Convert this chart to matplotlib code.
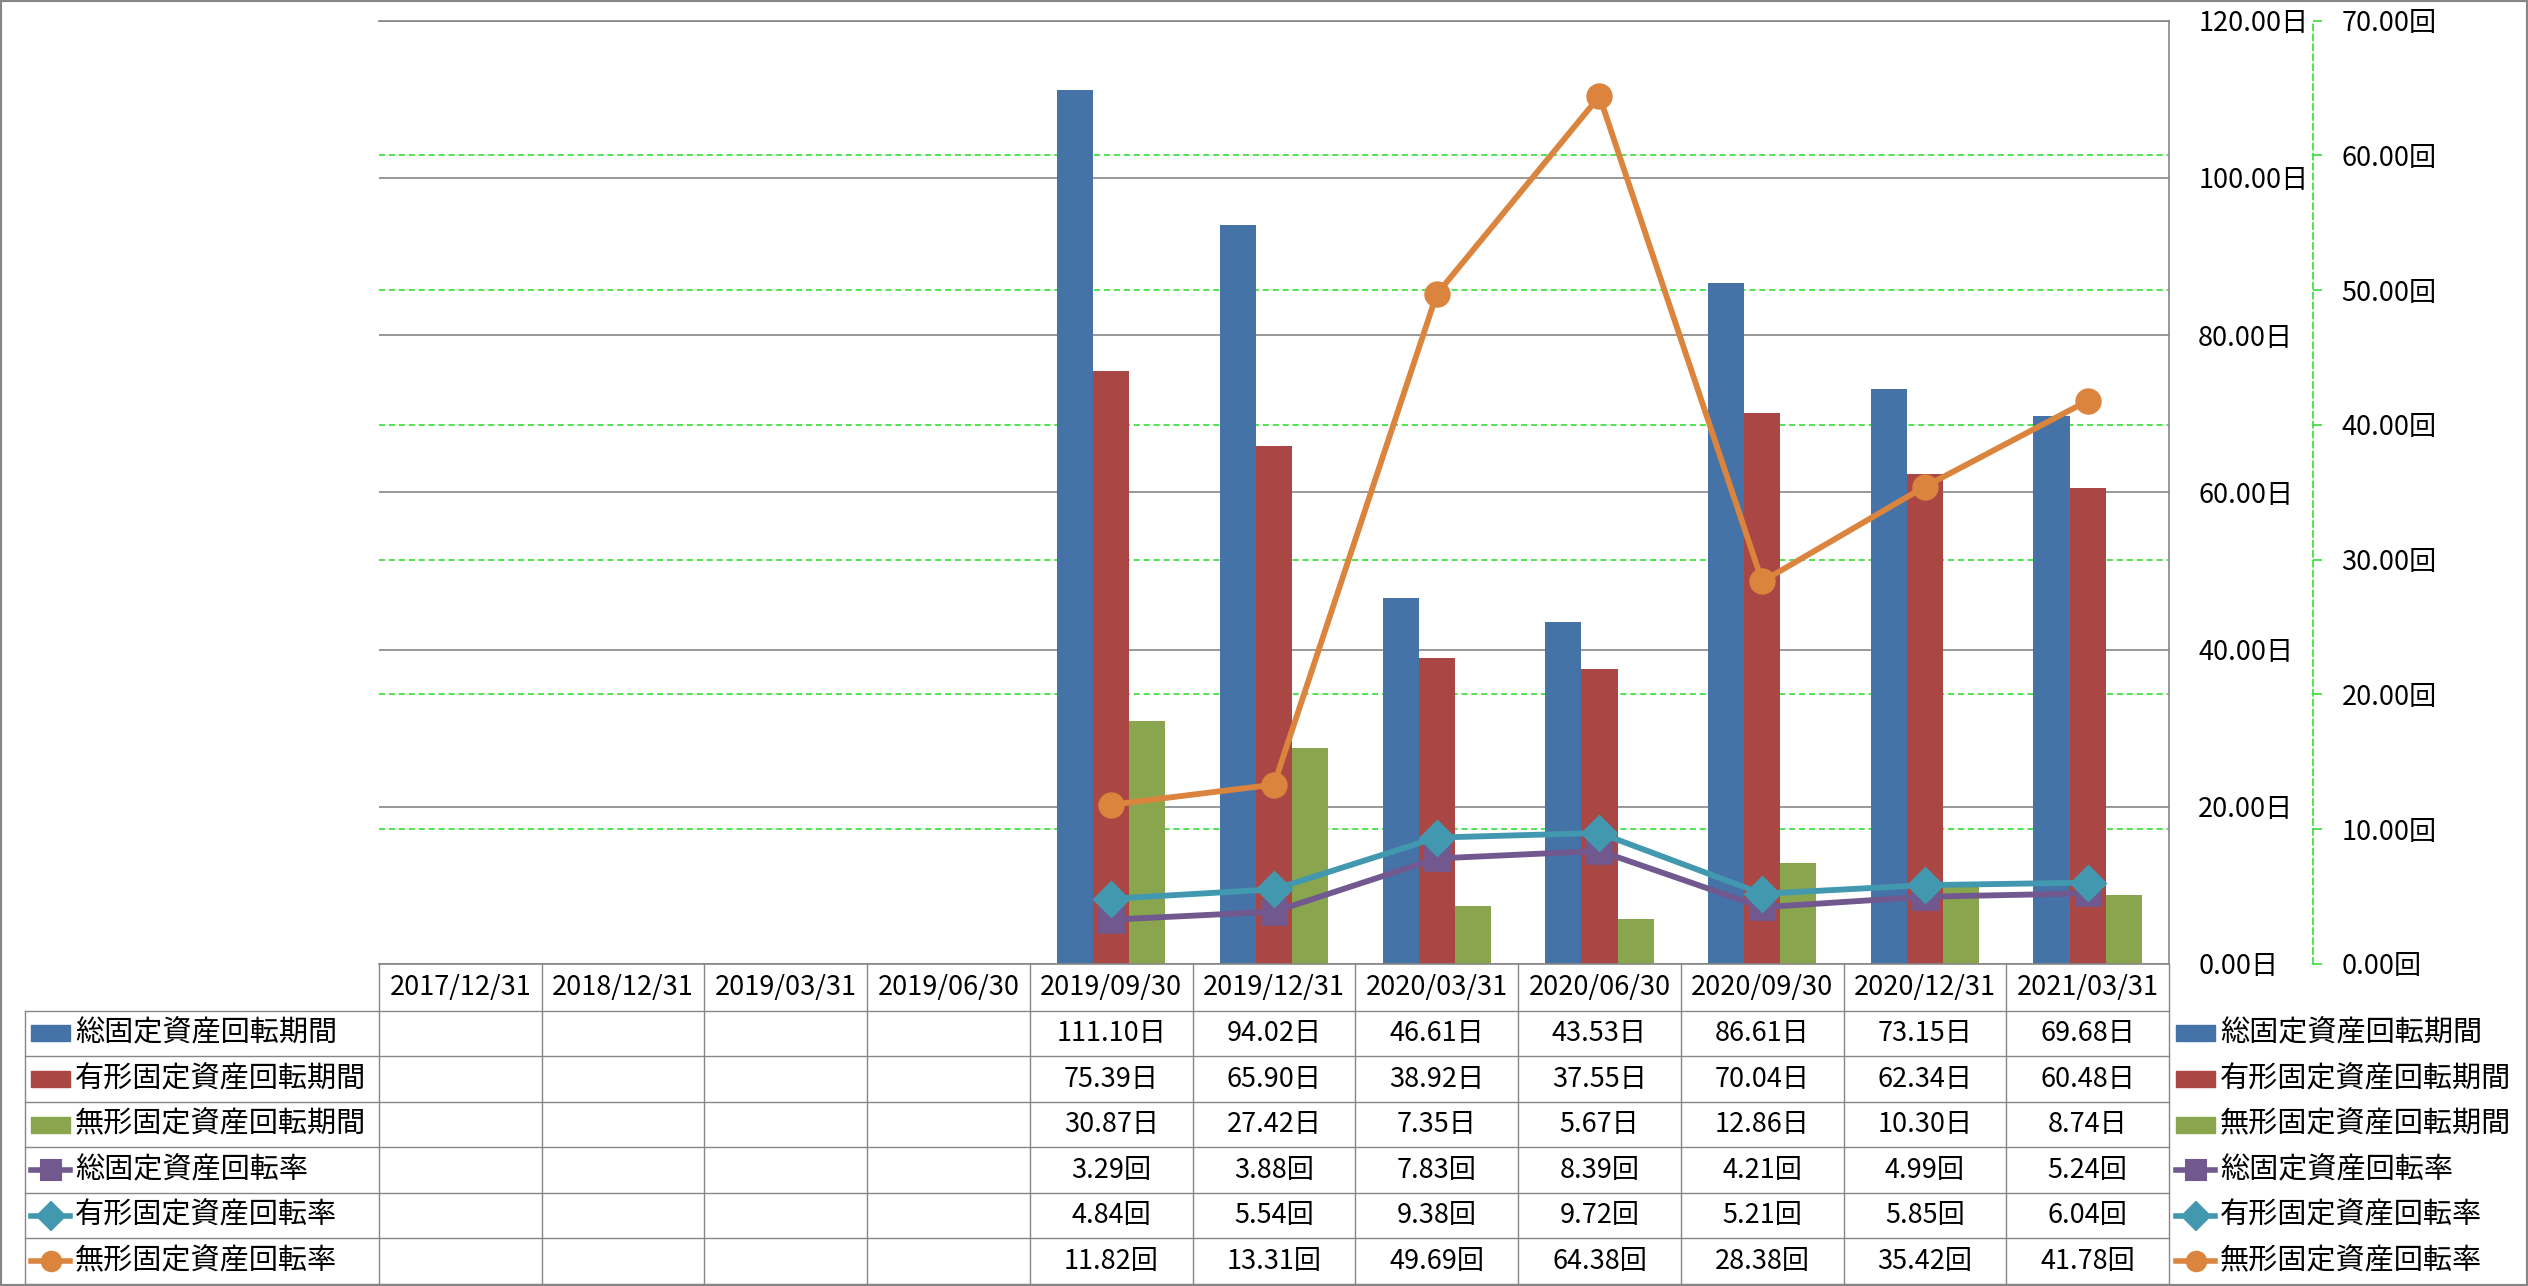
import numpy as np
import matplotlib
matplotlib.use("Agg")
import matplotlib.pyplot as plt
from matplotlib.lines import Line2D
from matplotlib.patches import Rectangle
from matplotlib.transforms import blended_transform_factory

plt.rcParams['font.family'] = ['Noto Sans CJK JP', 'DejaVu Sans']

# data
dates = ['2017/12/31', '2018/12/31', '2019/03/31', '2019/06/30', '2019/09/30', '2019/12/31',
         '2020/03/31', '2020/06/30', '2020/09/30', '2020/12/31', '2021/03/31']
nan = np.nan
total_days = [nan, nan, nan, nan, 111.10, 94.02, 46.61, 43.53, 86.61, 73.15, 69.68]
tangible_days = [nan, nan, nan, nan, 75.39, 65.90, 38.92, 37.55, 70.04, 62.34, 60.48]
intangible_days = [nan, nan, nan, nan, 30.87, 27.42, 7.35, 5.67, 12.86, 10.30, 8.74]
total_rate = [nan, nan, nan, nan, 3.29, 3.88, 7.83, 8.39, 4.21, 4.99, 5.24]
tangible_rate = [nan, nan, nan, nan, 4.84, 5.54, 9.38, 9.72, 5.21, 5.85, 6.04]
intangible_rate = [nan, nan, nan, nan, 11.82, 13.31, 49.69, 64.38, 28.38, 35.42, 41.78]

bar_names = ['総固定資産回転期間', '有形固定資産回転期間', '無形固定資産回転期間']
line_names = ['総固定資産回転率', '有形固定資産回転率', '無形固定資産回転率']
bar_colors = ['#4572A7', '#AA4643', '#89A54E']
line_colors = ['#71588F', '#4198AF', '#DB843D']
line_markers = ['s', 'D', 'o']

day_ticks = np.arange(0, 121, 20)
rate_ticks = np.arange(0, 71, 10)

W, H = 2528, 1286
fig = plt.figure(figsize=(W / 100, H / 100), dpi=100)


def fx(px):
    return px / W


def fy(py):
    return 1 - py / H


gray = '#868686'
green = '#22dd22'

# plot area
x0, x1, y_top, y_bot = 379, 2169, 20.5, 964
ax = fig.add_axes([fx(x0), fy(y_bot), fx(x1) - fx(x0), fy(y_top) - fy(y_bot)])
x = np.arange(len(dates))
ax.set_xlim(-0.5, len(dates) - 0.5)
ax.set_ylim(day_ticks[0], day_ticks[-1])
ax.set_xticks([])
ax.grid(axis='y', color=gray, lw=1.2)
ax.set_axisbelow(True)
ax.spines['left'].set_visible(False)
for s in ['top', 'right', 'bottom']:
    ax.spines[s].set_color(gray)
    ax.spines[s].set_linewidth(1.2)

# secondary grid, kept behind the bars
for t in rate_ticks[1:-1]:
    ax.axhline(t * day_ticks[-1] / rate_ticks[-1], color=green, lw=1.1,
               ls=(0, (4, 2.5)), zorder=0.6)

bw = 0.222
for k, (vals, col) in enumerate(zip([total_days, tangible_days, intangible_days], bar_colors)):
    ax.bar(x + (k - 1) * bw, vals, width=bw, color=col, zorder=2)

ax2 = ax.twinx()
ax2.set_ylim(rate_ticks[0], rate_ticks[-1])
ax2.set_yticks(rate_ticks)
ax2.set_yticklabels([f'{v:.2f}回' for v in rate_ticks])
ax2.spines['right'].set_position(('axes', (2313 - x0) / (x1 - x0)))
ax2.spines['right'].set_color(green)
ax2.spines['right'].set_linestyle((0, (4, 2.5)))
ax2.spines['right'].set_linewidth(1.1)
for s in ['top', 'left', 'bottom']:
    ax2.spines[s].set_visible(False)
ax2.tick_params(axis='y', length=6.5, width=1.1, color=green, pad=14, labelsize=19.5)

# primary day axis labels sit just right of the plot area
ax.yaxis.tick_right()
ax.set_yticks(day_ticks)
ax.set_yticklabels([f'{v:.2f}日' for v in day_ticks])
ax.tick_params(axis='y', which='both', left=False, right=False, labelleft=False,
               labelright=True, length=0, pad=21, labelsize=19.5)

for vals, col, mk in zip([total_rate, tangible_rate, intangible_rate], line_colors, line_markers):
    ax2.plot(x, vals, color=col, lw=4.2, marker=mk, ms=17, mec=col, mew=2, zorder=3)

# data table below the plot
trans = blended_transform_factory(ax.transData, fig.transFigure)
head_bot = 1010.7
row_h = (1284 - head_bot) / 6
row_lines = [head_bot + k * row_h for k in range(7)]

for i in range(len(dates) + 1):
    fig.add_artist(Line2D([i - 0.5, i - 0.5], [fy(y_bot), fy(1284)], color=gray, lw=1,
                          transform=trans))
for ry in row_lines:
    fig.add_artist(Line2D([fx(25), fx(x1)], [fy(ry), fy(ry)], color=gray, lw=1,
                          transform=fig.transFigure))
fig.add_artist(Line2D([fx(25), fx(25)], [fy(head_bot), fy(1284)], color=gray, lw=1,
                      transform=fig.transFigure))

for i, d in enumerate(dates):
    ax.text(i, fy((y_bot + head_bot) / 2), d, transform=trans, ha='center', va='center',
            fontsize=19.5, clip_on=False)

all_series = [total_days, tangible_days, intangible_days, total_rate, tangible_rate, intangible_rate]
units = ['日', '日', '日', '回', '回', '回']
names = bar_names + line_names
colors = bar_colors + line_colors
for r, (vals, unit) in enumerate(zip(all_series, units)):
    yc = head_bot + (r + 0.5) * row_h
    for i, v in enumerate(vals):
        if not np.isnan(v):
            ax.text(i, fy(yc), f'{v:.2f}{unit}', transform=trans, ha='center', va='center',
                    fontsize=19.5, clip_on=False)


def legend_key(xl, yc, r):
    if r < 3:
        fig.add_artist(Rectangle((fx(xl), fy(yc + 8)), 39 / W, 16 / H, color=colors[r],
                                 transform=fig.transFigure))
    else:
        fig.add_artist(Line2D([fx(xl), fx(xl + 39)], [fy(yc), fy(yc)], color=colors[r], lw=4,
                              transform=fig.transFigure))
        fig.add_artist(Line2D([fx(xl + 19.5)], [fy(yc)], color=colors[r], marker=line_markers[r - 3],
                              ms=14, mec=colors[r], mew=1.5, transform=fig.transFigure))


for r, name in enumerate(names):
    yc = head_bot + (r + 0.5) * row_h
    legend_key(31, yc, r)
    fig.text(fx(75), fy(yc), name, ha='left', va='center', fontsize=21)
    legend_key(2176, yc, r)
    fig.text(fx(2220), fy(yc), name, ha='left', va='center', fontsize=21)

fig.add_artist(Rectangle((0, 0), 1, 1, fill=False, ec=gray, lw=3, transform=fig.transFigure))

fig.savefig('out.png', dpi=100)
